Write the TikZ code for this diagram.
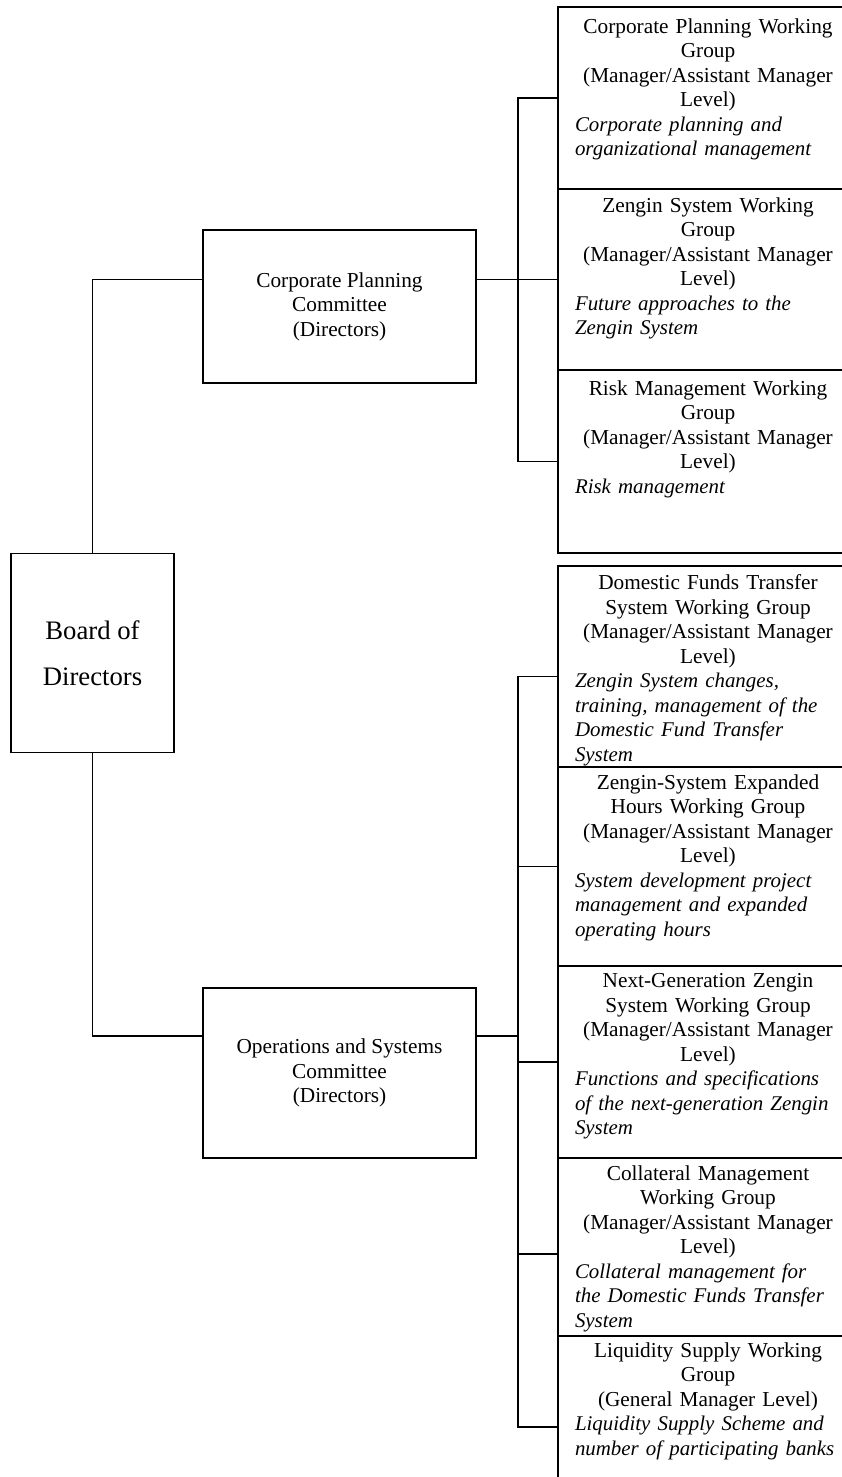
\documentclass[tikz,border=0pt]{standalone}
\usepackage{fontspec}
\setmainfont{Liberation Serif}
\usetikzlibrary{positioning}

\newcommand{\wgnote}[2]{{\centering #1\par}{\raggedright\fontsize{20.9}{24.5}\selectfont\itshape #2\par}}

\begin{document}
\begin{tikzpicture}[
  x=1pt, y=-1pt,
  line width=1.3pt,
  boardbox/.style={rectangle, draw, align=center, minimum width=163pt, minimum height=199pt, font=\fontsize{26.7}{46}\selectfont},
  cttbox/.style={rectangle, draw, align=center, minimum width=273pt, font=\fontsize{21.3}{24.5}\selectfont},
  wgbox/.style={rectangle, draw, minimum width=294pt, inner sep=0pt, outer sep=0pt},
  wgtext/.style={inner sep=0pt, text width=266pt, xshift=3pt, font=\fontsize{21.3}{24.5}\selectfont},
  link/.style={line width=1.3pt},
  thicklink/.style={line width=2.2pt},
]
\useasboundingbox (0,0) rectangle (842,1477);

% === BOARD AND COMMITTEES ===
\node[boardbox] (board) at (92.5, 653) {Board of\\Directors};
\node[cttbox, minimum height=153pt] (cpc) at (339.5, 306.5) {Corporate Planning\\Committee\\(Directors)};
\node[cttbox, minimum height=170pt] (osc) at (339.5, 1073) {Operations and Systems\\Committee\\(Directors)};

% === WORKING GROUPS (upper) ===
\node[wgbox, anchor=north west, minimum height=182pt] (wg1) at (558, 7) {};
\node[wgbox, below=0pt of wg1, minimum height=181pt] (wg2) {};
\node[wgbox, below=0pt of wg2, minimum height=183pt] (wg3) {};

% === WORKING GROUPS (lower) ===
\node[wgbox, below=13pt of wg3, minimum height=201pt] (wg4) {};
\node[wgbox, below=0pt of wg4, minimum height=199pt] (wg5) {};
\node[wgbox, below=0pt of wg5, minimum height=192pt] (wg6) {};
\node[wgbox, below=0pt of wg6, minimum height=178pt] (wg7) {};
\node[wgbox, below=0pt of wg7, minimum height=182pt] (wg8) {};

\node[wgtext, below=11pt of wg1.north] (wg1txt) {\wgnote{Corporate Planning Working\\Group\\(Manager/Assistant Manager\\Level)}{Corporate planning and\\organizational management}};
\node[wgtext, below=8pt of wg2.north] (wg2txt) {\wgnote{Zengin System Working\\Group\\(Manager/Assistant Manager\\Level)}{Future approaches to the\\Zengin System}};
\node[wgtext, below=10pt of wg3.north] (wg3txt) {\wgnote{Risk Management Working\\Group\\(Manager/Assistant Manager\\Level)}{Risk management}};
\node[wgtext, below=8pt of wg4.north] (wg4txt) {\wgnote{Domestic Funds Transfer\\System Working Group\\(Manager/Assistant Manager\\Level)}{Zengin System changes,\\training, management of the\\Domestic Fund Transfer\\System}};
\node[wgtext, below=7pt of wg5.north] (wg5txt) {\wgnote{Zengin-System Expanded\\Hours Working Group\\(Manager/Assistant Manager\\Level)}{System development project\\management and expanded\\operating hours}};
\node[wgtext, below=7pt of wg6.north] (wg6txt) {\wgnote{Next-Generation Zengin\\System Working Group\\(Manager/Assistant Manager\\Level)}{Functions and specifications\\of the next-generation Zengin\\System}};
\node[wgtext, below=7pt of wg7.north] (wg7txt) {\wgnote{Collateral Management\\Working Group\\(Manager/Assistant Manager\\Level)}{Collateral management for\\the Domestic Funds Transfer\\System}};
\node[wgtext, below=6pt of wg8.north] (wg8txt) {\wgnote{Liquidity Supply Working\\Group\\(General Manager Level)}{Liquidity Supply Scheme and\\number of participating banks}};

% === CONNECTORS ===
\coordinate (bus) at (518, 0);
\draw[link] (board.north) |- ([yshift=27pt]cpc.west);
\draw[link] (board.south) |- ([yshift=37pt]osc.west);

\draw[link] ([yshift=27pt]cpc.east) -- ([yshift=27pt]cpc.east -| wg2.west);
\draw[link] (wg1.west) -| (bus |- wg3.west) -- (wg3.west);

\draw[thicklink] ([yshift=37pt]osc.east) -- ([yshift=37pt]osc.east -| bus);
\draw[link] ([yshift=-10pt]wg4.west) -| (bus |- wg8.west) -- (wg8.west);
\draw[link] (bus |- wg5.west) -- (wg5.west);
\draw[link] (bus |- wg6.west) -- (wg6.west);
\draw[link] ([yshift=-7pt]bus |- wg7.west) -- ([yshift=-7pt]wg7.west);
\end{tikzpicture}
\end{document}
